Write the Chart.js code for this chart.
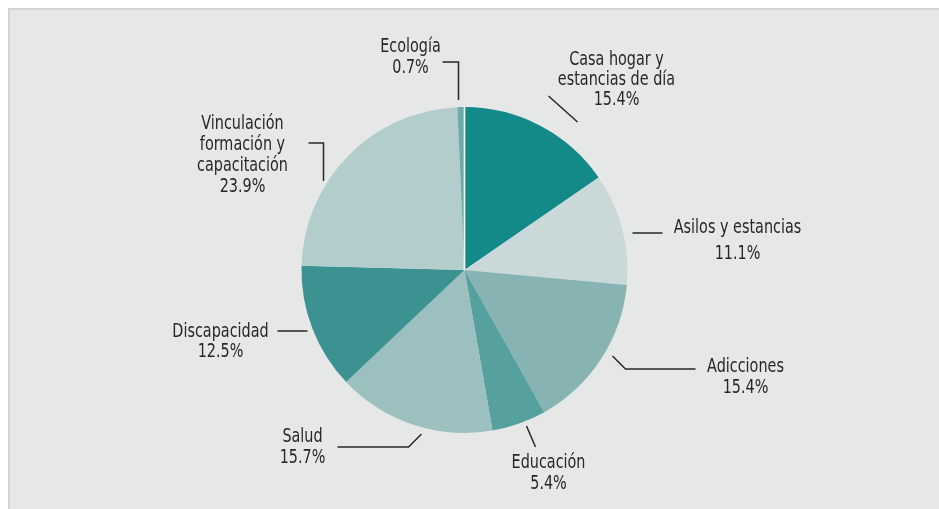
<!DOCTYPE html>
<html>
<head>
<meta charset="utf-8">
<script src="https://cdn.jsdelivr.net/npm/chart.js@4/dist/chart.umd.min.js"></script>
<style>
  html, body { margin: 0; padding: 0; background: #ffffff; }
  body { width: 939px; height: 509px; position: relative; overflow: hidden; }
  #panel {
    position: absolute; left: 8px; top: 8px; right: 0; bottom: 0;
    background: #e6e8e8;
    border-left: 2px solid #d3d5d5; border-top: 2px solid #d3d5d5;
  }
  #wrap { position: absolute; left: 0; top: 0; width: 939px; height: 509px; }
</style>
</head>
<body>
<div id="panel"></div>
<div id="wrap"><canvas id="chart"></canvas></div>
<script>
// Categories (clockwise from 12 o'clock) and their shares in percent
const categories = [
  'Casa hogar y estancias de día',
  'Asilos y estancias',
  'Adicciones',
  'Educación',
  'Salud',
  'Discapacidad',
  'Vinculación formación y capacitación',
  'Ecología'
];
const shares = [15.4, 11.1, 15.4, 5.4, 15.7, 12.5, 23.9, 0.7];

// Label lines as printed next to each slice
const labelLines = [
  ['Casa hogar y', 'estancias de día'],
  ['Asilos y estancias'],
  ['Adicciones'],
  ['Educación'],
  ['Salud'],
  ['Discapacidad'],
  ['Vinculación', 'formación y', 'capacitación'],
  ['Ecología']
];

const sliceColors = ['#138a88', '#c9d9d9', '#88b3b3', '#56a09e', '#9cbfc0', '#3c9291', '#b3cdcd', '#6eaaa9'];

// Label placement relative to the pie centre: text centre x, first baseline y, line step,
// and leader polyline points (all offsets in px from the centre).
const labelLayout = [
  { x: 152, y: -205, step: 20, leader: [[113, -148], [84, -174]] },
  { x: 273, y: -37,  step: 26, leader: [[168, -37], [198, -37]] },
  { x: 281, y: 102,  step: 21, leader: [[148, 86], [161, 99], [231, 99]] },
  { x: 84,  y: 198,  step: 21, leader: [[62, 156], [71, 177]] },
  { x: -162, y: 172, step: 21, leader: [[-43, 164], [-56, 177], [-127, 177]] },
  { x: -244, y: 67,  step: 20, leader: [[-187, 61], [-157, 61]] },
  { x: -222, y: -141, step: 21, leader: [[-156, -127], [-141, -127], [-141, -89]] },
  { x: -54, y: -218, step: 21, leader: [[-22, -208], [-6, -208], [-6, -170]] }
];

const FONT = '20px "DejaVu Sans Condensed", "Liberation Sans", sans-serif';
const CONDENSE = 0.8; // horizontal squeeze for a narrow label face

const calloutPlugin = {
  id: 'callouts',
  afterDatasetsDraw(chart) {
    const ctx = chart.ctx;
    const meta = chart.getDatasetMeta(0);
    const arc0 = meta.data[0];
    const cx = arc0.x, cy = arc0.y;

    // thin white seam at 12 o'clock between the first and last slice
    ctx.save();
    ctx.strokeStyle = '#ffffff';
    ctx.lineWidth = 1.6;
    ctx.beginPath();
    ctx.moveTo(cx, cy);
    ctx.lineTo(cx, cy - arc0.outerRadius - 0.5);
    ctx.stroke();
    ctx.restore();

    ctx.save();
    ctx.font = FONT;
    ctx.fillStyle = '#2a2627';
    ctx.textAlign = 'center';
    ctx.textBaseline = 'alphabetic';
    labelLayout.forEach((L, i) => {
      const lines = labelLines[i].concat([shares[i].toFixed(1) + '%']);
      lines.forEach((t, k) => {
        ctx.save();
        ctx.translate(cx + L.x, cy + L.y + k * L.step);
        ctx.scale(CONDENSE, 1);
        ctx.fillText(t, 0, 0);
        ctx.restore();
      });
      ctx.strokeStyle = '#2a2627';
      ctx.lineWidth = 1.5;
      ctx.beginPath();
      L.leader.forEach((p, k) => {
        if (k === 0) ctx.moveTo(cx + p[0], cy + p[1]);
        else ctx.lineTo(cx + p[0], cy + p[1]);
      });
      ctx.stroke();
    });
    ctx.restore();
  }
};

new Chart(document.getElementById('chart'), {
  type: 'pie',
  data: {
    labels: categories,
    datasets: [{
      data: shares,
      backgroundColor: sliceColors,
      borderWidth: 0
    }]
  },
  options: {
    responsive: true,
    maintainAspectRatio: false,
    animation: false,
    rotation: 0,
    layout: { padding: { top: 107, bottom: 76, left: 0, right: 10 } },
    plugins: {
      legend: { display: false },
      tooltip: { enabled: false }
    }
  },
  plugins: [calloutPlugin]
});
</script>
</body>
</html>
